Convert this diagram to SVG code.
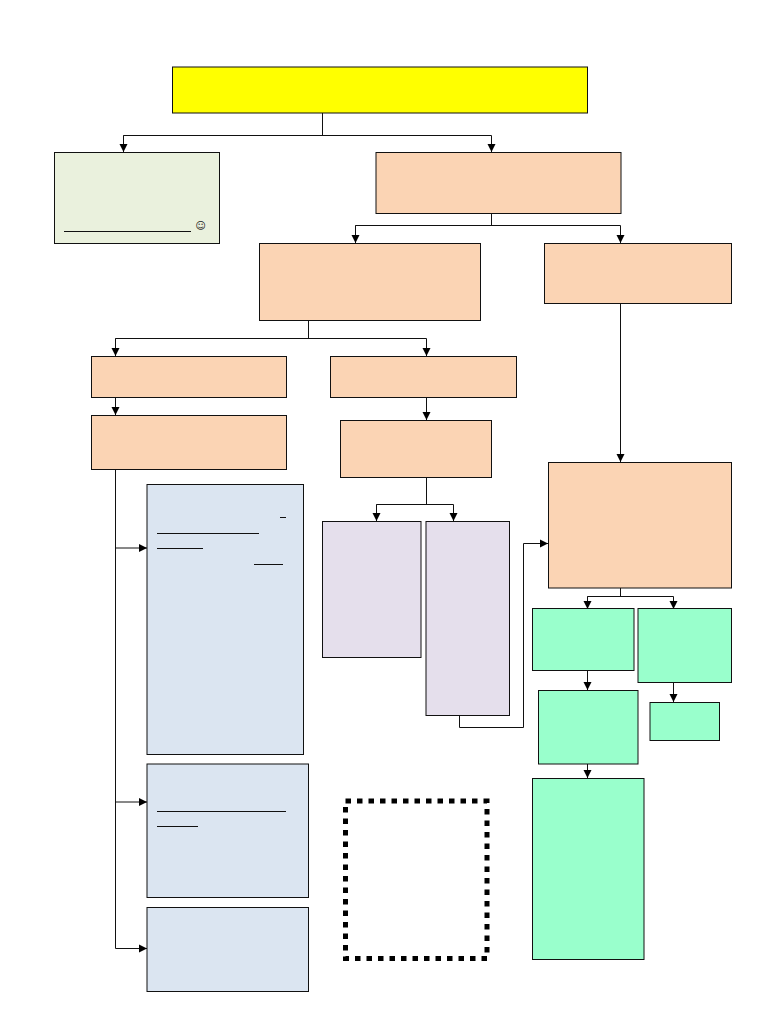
<svg xmlns="http://www.w3.org/2000/svg" width="768" height="1024" viewBox="0 0 768 1024">
<style>
.n{stroke:#111;stroke-width:1}
.y{fill:#ffff00}.g{fill:#eaf1dd}.o{fill:#fbd4b4}.b{fill:#dbe5f1}.p{fill:#e5dfec}.m{fill:#99ffcc}
.c{fill:none;stroke:#111;stroke-width:1}
.u{stroke:#111;stroke-width:1;fill:none}
</style>
<defs>
<marker id="a" markerUnits="userSpaceOnUse" markerWidth="8" markerHeight="9" refX="8" refY="4.500" orient="auto"><path d="M0 0.500L8 4.500L0 8.500Z" fill="#000"/></marker>
</defs>
<rect width="768" height="1024" fill="#fff"/>
<g id="connectors">
<path class="c" d="M322.500 113V135.500M123.500 152V135.500H491.500V152" marker-end="url(#a)"/>
<path class="c" d="M123.500 135.500V152" marker-end="url(#a)"/>
<path class="c" d="M491.500 214V225.500M355.500 243V225.500H620.500V243" marker-end="url(#a)"/>
<path class="c" d="M355.500 225.500V243" marker-end="url(#a)"/>
<path class="c" d="M308.500 320V338.500M115.500 356V338.500H426.500V356" marker-end="url(#a)"/>
<path class="c" d="M115.500 338.500V356" marker-end="url(#a)"/>
<path class="c" d="M620.500 304V462" marker-end="url(#a)"/>
<path class="c" d="M115.500 398V415" marker-end="url(#a)"/>
<path class="c" d="M426.500 398V420" marker-end="url(#a)"/>
<path class="c" d="M115.500 469V948.500H147" marker-end="url(#a)"/>
<path class="c" d="M115.500 548H147" marker-end="url(#a)"/>
<path class="c" d="M115.500 802H147" marker-end="url(#a)"/>
<path class="c" d="M426.500 477V504.500M376.500 521V504.500H453.500V521" marker-end="url(#a)"/>
<path class="c" d="M376.500 504.500V521" marker-end="url(#a)"/>
<path class="c" d="M459.500 715V727.500H523.500V543.500H548" marker-end="url(#a)"/>
<path class="c" d="M620.500 588V596.500M587.500 609V596.500H673.500V609" marker-end="url(#a)"/>
<path class="c" d="M587.500 596.500V609" marker-end="url(#a)"/>
<path class="c" d="M587.500 671V690" marker-end="url(#a)"/>
<path class="c" d="M673.500 683V702" marker-end="url(#a)"/>
<path class="c" d="M587.500 764V778" marker-end="url(#a)"/>
</g>
<g id="n1"><rect class="n y" x="172.500" y="67" width="415" height="46"/></g>
<g id="n2"><rect class="n g" x="54.500" y="152.500" width="165" height="91"/>
<path class="u" d="M64 231.500H191"/>
<text x="200.500" y="228.500" font-family="'DejaVu Sans',sans-serif" font-size="10" text-anchor="middle" fill="#222">☺</text></g>
<g id="n3"><rect class="n o" x="376" y="152.500" width="245" height="61"/></g>
<g id="n4"><rect class="n o" x="259.500" y="243.500" width="221" height="77"/></g>
<g id="n5"><rect class="n o" x="544.500" y="243.500" width="187" height="60"/></g>
<g id="n6"><rect class="n o" x="91.500" y="356.500" width="195" height="41"/></g>
<g id="n7"><rect class="n o" x="330.500" y="356.500" width="186" height="41"/></g>
<g id="n8"><rect class="n o" x="91.500" y="415.500" width="195" height="54"/></g>
<g id="n9"><rect class="n o" x="340.500" y="420.500" width="151" height="57"/></g>
<g id="n10"><rect class="n b" x="147" y="484.500" width="156.500" height="270"/>
<path class="u" d="M280 517.500H286M157 533.500H259M157 548.500H203M254 564.500H283"/></g>
<g id="n11"><rect class="n b" x="147" y="764" width="161.500" height="133.500"/>
<path class="u" d="M157 811.500H286M157 826.500H198"/></g>
<g id="n12"><rect class="n b" x="147" y="907.500" width="161.500" height="84"/></g>
<g id="n13"><rect class="n p" x="322.500" y="521.500" width="98.500" height="136"/></g>
<g id="n14"><rect class="n p" x="426" y="521.500" width="83.500" height="194"/></g>
<g id="n15"><rect class="n o" x="548.500" y="462.500" width="183" height="125.500"/></g>
<g id="n16"><rect class="n m" x="532.500" y="608.500" width="101.500" height="62"/></g>
<g id="n17"><rect class="n m" x="638" y="608.500" width="93.500" height="74"/></g>
<g id="n18"><rect class="n m" x="538.500" y="690.500" width="99.500" height="73.500"/></g>
<g id="n19"><rect class="n m" x="650" y="702.500" width="69.500" height="38"/></g>
<g id="n20"><rect class="n m" x="532.500" y="778.500" width="111.500" height="181"/></g>
<g id="n21"><rect x="345.500" y="801" width="141.500" height="157.500" fill="none" stroke="#000" stroke-width="5" stroke-dasharray="5.500 6"/></g>
</svg>
